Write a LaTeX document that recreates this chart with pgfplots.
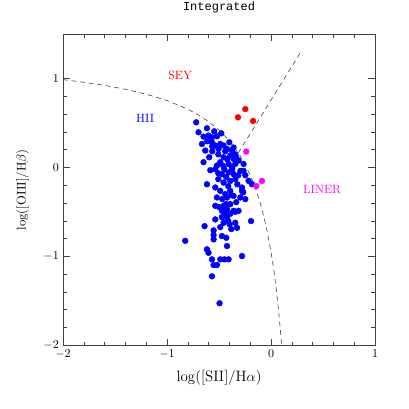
\documentclass[border=0pt]{standalone}
\usepackage{fontspec}
\usepackage{pgfplots}
\pgfplotsset{compat=1.18}
\newfontfamily\monofont{Liberation Mono}
\definecolor{hii}{RGB}{0,0,255}
\definecolor{sey}{RGB}{255,0,0}
\definecolor{lin}{RGB}{255,0,255}
\begin{document}
\begin{tikzpicture}
\begin{axis}[
  scale only axis, width=260pt, height=259pt,
  xmin=-2, xmax=1, ymin=-2, ymax=1.5,
  xtick={-2,-1,0,1}, ytick={-2,-1,0,1},
  minor x tick num=4, minor y tick num=4,
  tick align=inside, tick pos=both,
  major tick length=5.5pt, minor tick length=3pt,
  axis line style={black!75, line width=0.6pt},
  every tick/.style={black!75, line width=0.5pt},
  xlabel={log([SII]/H$\alpha$)}, ylabel={log([OIII]/H$\beta$)},
  xlabel style={font=\fontsize{12.5}{14}\selectfont, at={(axis description cs:0.5,-0.104)}, anchor=center},
  ylabel style={font=\fontsize{10.5}{12}\selectfont, at={(axis description cs:-0.13,0.5)}, anchor=center},
  title={Integrated},
  every axis title shift=0pt,
  title style={font=\monofont, at={(0.5,1)}, anchor=base, yshift=19.5pt},
  clip=true,
]
% Kewley et al. maximum starburst line
\addplot[black!75, line width=0.5pt, dash pattern=on 4pt off 3.2pt] coordinates {
(-2.0,0.990) (-1.8,0.960) (-1.6,0.925) (-1.4,0.881) (-1.2,0.826) (-1.0,0.755)
(-0.8,0.657) (-0.7,0.593) (-0.6,0.517) (-0.5,0.422) (-0.4,0.300) (-0.35,0.229) (-0.3,0.139)
(-0.25,0.034) (-0.2,-0.085) (-0.15,-0.232) (-0.1,-0.414) (-0.05,-0.646) (0.0,-0.950)
(0.03,-1.183) (0.05,-1.367) (0.07,-1.580) (0.09,-1.830) (0.102,-2.003)};
% Seyfert / LINER division
\addplot[black!75, line width=0.5pt, dash pattern=on 4pt off 3.2pt] coordinates {
(-0.315,0.165) (0.29,1.308)};
% HII galaxies
\addplot[only marks, mark=*, mark size=2.4pt, color=hii] coordinates {
(-0.719,0.509) (-0.616,0.442) (-0.697,0.397) (-0.546,0.408) (-0.478,0.385)
(-0.649,0.348) (-0.601,0.360) (-0.568,0.340) (-0.520,0.352) (-0.664,0.265)
(-0.568,0.284) (-0.536,0.247) (-0.488,0.265) (-0.456,0.247) (-0.632,0.191)
(-0.504,0.209) (-0.423,0.209) (-0.375,0.191) (-0.456,0.116) (-0.392,0.135)
(-0.360,0.097) (-0.649,0.060) (-0.312,0.079) (-0.520,0.022) (-0.408,0.040)
(-0.344,0.040) (-0.264,0.040) (-0.584,-0.030) (-0.536,-0.019) (-0.459,0.018)
(-0.375,0.000) (-0.295,-0.038) (-0.472,-0.075) (-0.408,-0.056) (-0.360,-0.075)
(-0.216,-0.151) (-0.616,-0.188) (-0.536,-0.225) (-0.456,-0.169) (-0.392,-0.151)
(-0.344,-0.131) (-0.279,-0.225) (-0.183,-0.188) (-0.488,-0.263) (-0.440,-0.300)
(-0.392,-0.263) (-0.520,-0.337) (-0.423,-0.337) (-0.360,-0.319) (-0.295,-0.337)
(-0.247,-0.356) (-0.536,-0.431) (-0.456,-0.431) (-0.392,-0.412) (-0.472,-0.488)
(-0.423,-0.469) (-0.360,-0.488) (-0.536,-0.584) (-0.472,-0.558) (-0.440,-0.528)
(-0.423,-0.566) (-0.392,-0.521) (-0.344,-0.499) (-0.456,-0.622) (-0.398,-0.640)
(-0.344,-0.622) (-0.327,-0.679) (-0.192,-0.603) (-0.639,-0.660) (-0.488,-0.671)
(-0.552,-0.708) (-0.552,-0.761) (-0.552,-0.809) (-0.472,-0.772) (-0.430,-0.791)
(-0.423,-0.884) (-0.616,-0.921) (-0.601,-0.960) (-0.279,-0.997) (-0.568,-1.034)
(-0.488,-1.034) (-0.449,-1.034) (-0.408,-1.034) (-0.825,-0.825) (-0.552,-1.098)
(-0.520,-1.098) (-0.568,-1.225) (-0.495,-1.528) (-0.360,0.225) (-0.344,0.149)
(-0.264,-0.038) (-0.279,-0.263) (-0.312,-0.488) (-0.507,0.149) (-0.440,0.183)
(-0.565,0.183) (-0.421,0.093) (-0.488,0.060) (-0.372,-0.019) (-0.430,-0.109)
(-0.507,-0.131) (-0.324,-0.188) (-0.411,-0.210) (-0.469,-0.356) (-0.334,-0.390)
(-0.498,-0.446) (-0.411,-0.603) (-0.382,-0.693) (-0.507,-0.064) (-0.594,0.116)
(-0.247,-0.087) (-0.315,-0.087) (-0.382,-0.311) (-0.430,-0.412) (-0.267,-0.278)
(-0.565,0.239) (-0.613,0.296) (-0.401,0.284) (-0.334,0.116) (-0.449,-0.019)};
% Seyferts
\addplot[only marks, mark=*, mark size=2.4pt, color=sey] coordinates {
(-0.318,0.565) (-0.247,0.658) (-0.173,0.524)};
% LINERs
\addplot[only marks, mark=*, mark size=2.4pt, color=lin] coordinates {
(-0.238,0.180) (-0.087,-0.151) (-0.141,-0.210)};
\node[color=sey] at (axis cs:-0.873,1.040) {SEY};
\node[color=hii] at (axis cs:-1.210,0.554) {HII};
\node[color=lin] at (axis cs:0.491,-0.252) {LINER};
\end{axis}
\pgfresetboundingbox
\path[use as bounding box] ([xshift=-52.5pt,yshift=-52.8pt]current axis.south west) rectangle ([xshift=28.3pt,yshift=28.6pt]current axis.north east);
\end{tikzpicture}
\end{document}
